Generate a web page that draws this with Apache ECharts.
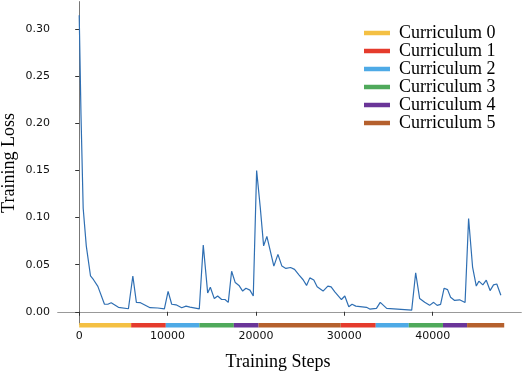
<!DOCTYPE html>
<html>
<head>
<meta charset="utf-8">
<script src="https://cdn.jsdelivr.net/npm/echarts@6/dist/echarts.min.js"></script>
<style>
  html, body { margin: 0; padding: 0; background: #fff; }
  #chart { width: 524px; height: 372px; }
</style>
</head>
<body>
<div id="chart"></div>
<script>
  // training steps / loss
  const steps = [0, 200, 450, 800, 1280, 1620, 2110, 2860, 3240, 3620, 4440, 5570, 6070, 6470, 6930, 8020, 8890, 9640,
    10060, 10470, 10960, 11600, 12090, 12540, 13590, 14040, 14540, 14840, 15290, 15670, 16120, 16500, 16870, 17250,
    17660, 18080, 18500, 18870, 19320, 19700, 20080, 20490, 20870, 21240, 22030, 22490, 22940, 23390, 23920, 24370,
    24890, 25340, 25730, 26100, 26550, 26930, 27600, 28140, 28510, 28930, 29680, 30060, 30510, 30880, 31300, 32510,
    32880, 33640, 34070, 34800, 37630, 38080, 38530, 39100, 39660, 40110, 40510, 40900, 41300, 41690, 42030, 42490,
    43050, 43670, 44070, 44520, 44940, 45230, 45680, 46070, 46500, 46890, 47260, 47720]
  const loss = [0.315, 0.21, 0.110, 0.070, 0.038, 0.034, 0.027, 0.008, 0.008, 0.0096, 0.0047, 0.0032, 0.038, 0.010, 0.0096, 0.0043, 0.004, 0.003,
    0.0217, 0.008, 0.0074, 0.0043, 0.006, 0.005, 0.003, 0.0708, 0.020, 0.026, 0.014, 0.0167, 0.013, 0.013, 0.010, 0.043,
    0.031, 0.028, 0.022, 0.025, 0.023, 0.0167, 0.150, 0.111, 0.070, 0.080, 0.0485, 0.061, 0.0485, 0.046, 0.047, 0.045,
    0.039, 0.034, 0.028, 0.036, 0.0337, 0.0265, 0.022, 0.0273, 0.0265, 0.0212, 0.013, 0.0167, 0.0053, 0.008, 0.006, 0.0047,
    0.0029, 0.0036, 0.010, 0.0036, 0.0018, 0.0414, 0.014, 0.010, 0.0068, 0.010, 0.0068, 0.0079, 0.025, 0.0235, 0.0155, 0.012,
    0.0127, 0.0098, 0.099, 0.0475, 0.0273, 0.0325, 0.0285, 0.0335, 0.0225, 0.0285, 0.0295, 0.0175]

  // curriculum stages along the step axis
  const stageEdges = [0, 5880, 9800, 13600, 17500, 20300, 29600, 33560, 37300, 41170, 43900, 48100]
  const stageIds = [0, 1, 2, 3, 4, 5, 1, 2, 3, 4, 5]
  const curriculumNames = ['Curriculum 0', 'Curriculum 1', 'Curriculum 2', 'Curriculum 3', 'Curriculum 4', 'Curriculum 5']
  const curriculumColors = ['#f4c043', '#e53b2c', '#4eaae6', '#4fa95b', '#6a3598', '#b5602d']

  const xTicks = [0, 10000, 20000, 30000, 40000]
  const yTicks = [0, 0.05, 0.10, 0.15, 0.20, 0.25, 0.30]

  const myChart = echarts.init(document.getElementById('chart'))
  const tickFont = { fontFamily: 'DejaVu Sans', fontSize: 11, color: '#111' }
  const serif = 'Liberation Serif'

  let series = [{
    type: 'line',
    data: steps.map((s, i) => [s, loss[i]]),
    showSymbol: false,
    symbol: 'none',
    lineStyle: { color: '#2f6fb3', width: 1.2 },
    z: 3
  }]

  curriculumNames.forEach(function (name, k) {
    let segs = []
    stageIds.forEach(function (id, i) {
      if (id === k) segs.push([stageEdges[i], stageEdges[i + 1]])
    })
    series.push({
      type: 'custom',
      name: name,
      itemStyle: { color: curriculumColors[k] },
      clip: false,
      z: 5,
      data: segs,
      renderItem: function (params, api) {
        const a = api.coord([api.value(0), 0])
        const b = api.coord([api.value(1), 0])
        const bottom = params.coordSys.y + params.coordSys.height
        return {
          type: 'rect',
          shape: { x: a[0], y: bottom - 1, width: b[0] - a[0], height: 4.5 },
          style: { fill: curriculumColors[k] }
        }
      }
    })
  })

  const option = {
    animation: false,
    backgroundColor: '#fff',
    grid: { left: 58, right: 3, top: 2, bottom: 48 },
    legend: {
      orient: 'vertical',
      left: 364,
      top: 24,
      padding: 0,
      icon: 'rect',
      itemWidth: 26,
      itemHeight: 4.5,
      itemGap: 0,
      data: curriculumNames,
      textStyle: { fontFamily: serif, fontSize: 18, color: '#000', lineHeight: 17.4, padding: [0, 0, 0, 4] }
    },
    xAxis: [{
      type: 'value',
      min: -2400,
      max: 50000,
      splitLine: { show: false },
      axisLine: { lineStyle: { color: '#777', width: 1 } },
      axisTick: { show: true, length: 4, customValues: xTicks, lineStyle: { color: '#333' } },
      axisLabel: { customValues: xTicks, margin: 7, formatter: v => String(v), ...tickFont }
    }, {
      type: 'value',
      position: 'top',
      min: -2400,
      max: 50000,
      splitLine: { show: false },
      axisLine: { show: true, lineStyle: { color: '#999' } },
      axisTick: { show: false },
      axisLabel: { show: false }
    }],
    yAxis: [{
      type: 'value',
      min: -0.013,
      max: 0.329,
      splitLine: { show: false },
      axisLine: { show: true, lineStyle: { color: '#222' } },
      axisTick: { show: true, length: 4, customValues: yTicks, lineStyle: { color: '#333' } },
      axisLabel: { customValues: yTicks, margin: 8, formatter: v => v.toFixed(2), ...tickFont }
    }, {
      type: 'value',
      position: 'right',
      min: -0.013,
      max: 0.329,
      splitLine: { show: false },
      axisLine: { show: true, lineStyle: { color: '#777' } },
      axisTick: { show: false },
      axisLabel: { show: false }
    }],
    graphic: [{
      type: 'text',
      x: 278,
      y: 362,
      style: { text: 'Training Steps', fontFamily: serif, fontSize: 18, fill: '#000', align: 'center', verticalAlign: 'middle' }
    }, {
      type: 'text',
      x: 9,
      y: 163,
      rotation: Math.PI / 2,
      style: { text: 'Training Loss', fontFamily: serif, fontSize: 18, fill: '#000', align: 'center', verticalAlign: 'middle' }
    }],
    series: series
  }

  myChart.setOption(option)
</script>
</body>
</html>
